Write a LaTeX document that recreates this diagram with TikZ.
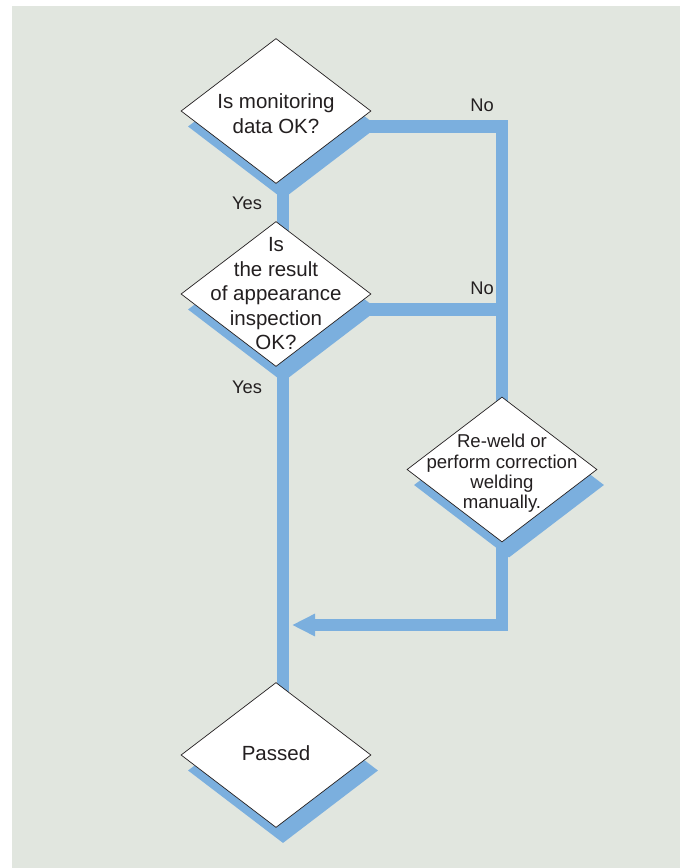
\documentclass[tikz,border=0pt]{standalone}
\usepackage{fontspec}
\setmainfont{Liberation Sans}
\usetikzlibrary{shapes.geometric,arrows.meta}
\definecolor{bg}{RGB}{225,230,223}
\definecolor{flowblue}{RGB}{123,175,222}
\definecolor{ink}{RGB}{35,31,32}
\pgfdeclarelayer{back}
\pgfsetlayers{back,main}
\begin{document}
\begin{tikzpicture}[x=1pt,y=-1pt,
 dia/.style={diamond, draw=ink, line width=0.7pt, fill=white, minimum width=190pt, minimum height=145pt, inner sep=0pt, aspect=1.31},
 shad/.style={diamond, fill=flowblue, minimum width=190pt, minimum height=145pt, inner sep=0pt, aspect=1.31},
 flow/.style={draw=flowblue, line width=12.7pt, line join=miter},
 txt/.style={align=center, text=ink, font=\fontsize{20.5}{24.5}\selectfont, inner sep=0pt},
 txtsmall/.style={align=center, text=ink, font=\fontsize{18.6}{20.4}\selectfont, inner sep=0pt},
 lbl/.style={text=ink, font=\fontsize{18.3}{22}\selectfont, inner sep=0pt}]
\useasboundingbox (0,0) rectangle (680,868);

% shadows
\node[shad] (s1) at (283,126.5) {};
\node[shad] (s2) at (283,309.5) {};
\node[shad] (s3) at (509,485) {};
\node[shad] (s4) at (283,770.5) {};

% diamonds
\node[dia] (d1) at (276,111) {};
\node[dia] (d2) at (276,294) {};
\node[dia] (d3) at (502,469.5) {};
\node[dia] (d4) at (276,755) {};

\node[txt] (t1) at ([yshift=-2.5]d1.center) {Is monitoring\\data OK?};
\node[txt] (t2) at (d2.center) {Is\\the result\\of appearance\\inspection\\OK?};
\node[txtsmall] (t3) at ([yshift=-4]d3.center) {Re-weld or\\perform correction\\welding\\manually.};
\node[txt] (t4) at ([yshift=2]d4.center) {Passed};

% labels
\node[lbl] (no1) at (482,105) {No};
\node[lbl] (no2) at (482,288) {No};
\node[lbl] (yes1) at (247,203) {Yes};
\node[lbl] (yes2) at (247,387) {Yes};

\coordinate (ret) at (292,625);

\begin{pgfonlayer}{back}
\fill[bg] (12,6) rectangle (680,868);
\draw[flow] (s1.center) -- (s4.center);
\draw[flow] (s1.center) -| (d3.center);
\draw[flow] (s2.center) -- (s2.center -| d3.center);
\draw[flow,-{Triangle[length=23pt,width=21pt]}] (d3.center) |- (ret);
\end{pgfonlayer}
\end{tikzpicture}
\end{document}
